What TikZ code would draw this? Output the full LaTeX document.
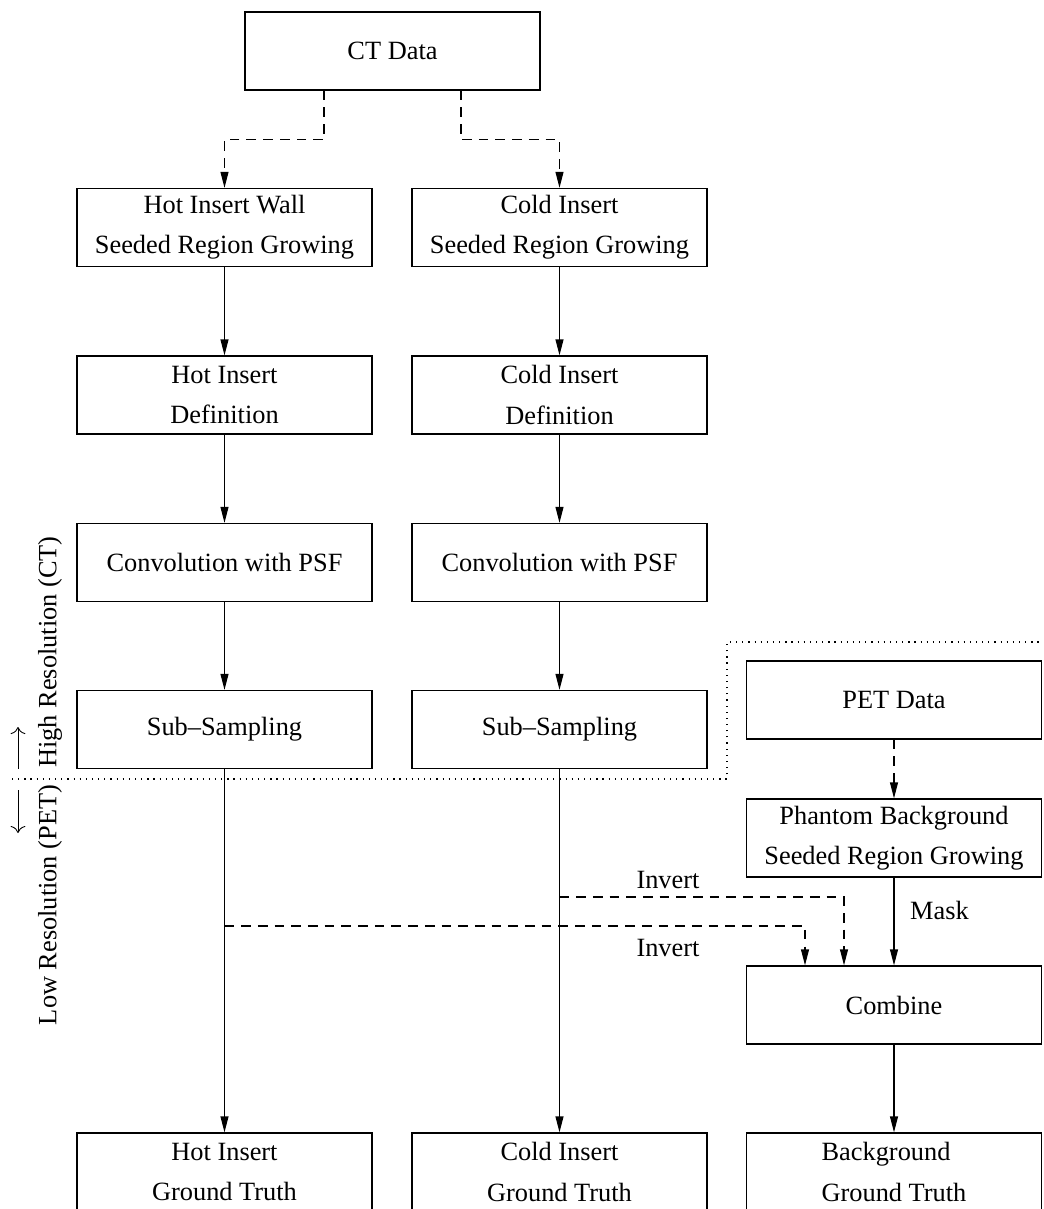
\documentclass[tikz,border=0pt]{standalone}
\usepackage{fontspec}
\setmainfont{Liberation Serif}
\usetikzlibrary{arrows.meta}
\tikzset{
  stepbox/.style={draw, line width=0.8pt, minimum width=5.9cm, minimum height=1.56cm, align=center, inner sep=0pt},
  flowln/.style={-{Triangle[length=9pt,width=4.5pt]}, line width=0.6pt},
  dashln/.style={flowln, dash pattern=on 5.5pt off 4pt},
  sepln/.style={line width=0.7pt, dash pattern=on 0.7pt off 2.8pt},
  sideln/.style={-{To[length=4pt]}, line width=0.5pt},
}

\begin{document}
\begin{tikzpicture}[font=\fontsize{15}{22.8}\selectfont]
    \useasboundingbox (0,0) rectangle (20.86,-24.18);
    % CT side: two parallel columns
    \node[stepbox] (ct) at (7.85,-1.02) {CT Data};
    \node[stepbox] (srg-hot) at (4.49,-4.55) {Hot Insert Wall\\Seeded Region Growing};
    \node[stepbox] (srg-cold) at (11.19,-4.55) {Cold Insert\\Seeded Region Growing};
    \node[stepbox] (def-hot) at (4.49,-7.90) {Hot Insert\\Definition};
    \node[stepbox] (def-cold) at (11.19,-7.90) {Cold Insert\\Definition};
    \node[stepbox] (conv-hot) at (4.49,-11.25) {Convolution with PSF};
    \node[stepbox] (conv-cold) at (11.19,-11.25) {Convolution with PSF};
    \node[stepbox] (sub-hot) at (4.49,-14.59) {Sub--Sampling};
    \node[stepbox] (sub-cold) at (11.19,-14.59) {Sub--Sampling};
    \node[stepbox] (gt-hot) at (4.49,-23.44) {Hot Insert\\Ground Truth};
    \node[stepbox] (gt-cold) at (11.19,-23.44) {Cold Insert\\Ground Truth};
    % PET side
    \node[stepbox] (pet) at (17.88,-14.00) {PET Data};
    \node[stepbox] (srg-bg) at (17.88,-16.76) {Phantom Background\\Seeded Region Growing};
    \node[stepbox] (comb) at (17.88,-20.10) {Combine};
    \node[stepbox, align=left] (gt-bg) at (17.88,-23.44) {Background\\Ground Truth};

    \draw[dashln] ([xshift=-1.37cm]ct.south) -- ++(0,-0.98) -| (srg-hot.north);
    \draw[dashln] ([xshift=1.37cm]ct.south) -- ++(0,-0.98) -| (srg-cold.north);
    \foreach \col in {hot,cold} {
      \draw[flowln] (srg-\col) -- (def-\col);
      \draw[flowln] (def-\col) -- (conv-\col);
      \draw[flowln] (conv-\col) -- (sub-\col);
      \draw[flowln] (sub-\col) -- (gt-\col);
    }
    \draw[dashln] (pet) -- (srg-bg);
    \draw[flowln] (srg-bg) -- (comb);
    \draw[flowln] (comb) -- (gt-bg);
    \node[anchor=west] (mask) at (18.08,-18.20) {Mask};

    % inverted insert masks feed the combination
    \coordinate (inv-cold) at (11.19,-17.94);
    \coordinate (inv-hot) at (4.49,-18.52);
    \draw[dashln] (inv-cold) -| ([xshift=-1.00cm]comb.north);
    \draw[dashln] (inv-hot) -| ([xshift=-1.78cm]comb.north);
    \node (lbl-cold) at (13.36,-17.60) {Invert};
    \node (lbl-hot) at (13.36,-18.96) {Invert};

    % resolution boundary
    \draw[sepln] (0.24,-15.58) -- (14.54,-15.58) -- (14.54,-12.84) -- (20.86,-12.84);
    \draw[sideln] (0.36,-15.38) -- (0.36,-14.54);
    \draw[sideln] (0.36,-15.80) -- (0.36,-16.66);
    \node[rotate=90] (hires) at (1.00,-13.04) {High Resolution (CT)};
    \node[rotate=90] (lores) at (1.00,-18.10) {Low Resolution (PET)};
\end{tikzpicture}
\end{document}
